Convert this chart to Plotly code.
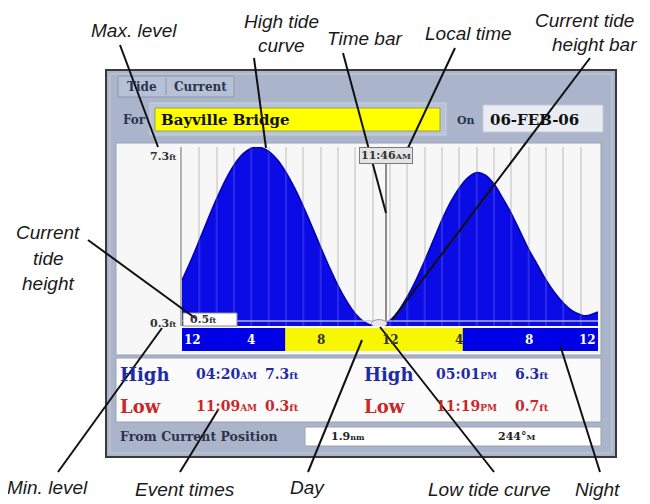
import plotly.graph_objects as go

W, H = 650, 504

# ---------------- data ----------------
tide_hours = [0, 0.5, 1, 1.5, 2, 2.5, 3, 3.5, 4, 4.33, 4.5, 5, 5.5, 6, 6.5, 7, 7.5, 8,
              8.5, 9, 9.5, 10, 10.5, 11, 11.15, 11.5, 12, 12.5, 13, 13.5, 14, 14.5,
              15, 15.5, 16, 16.5, 17.02, 17.5, 18, 18.5, 19, 19.5, 20, 20.5, 21,
              21.5, 22, 22.5, 23, 23.32, 24]
tide_ft = [2.09, 2.84, 3.65, 4.48, 5.28, 6.00, 6.59, 7.02, 7.25, 7.30, 7.29, 7.13, 6.80,
           6.31, 5.69, 4.97, 4.19, 3.38, 2.60, 1.88, 1.27, 0.78, 0.46, 0.31, 0.30, 0.33,
           0.52, 0.90, 1.45, 2.10, 2.85, 3.65, 4.45, 5.15, 5.70, 6.10, 6.30, 6.20, 5.85,
           5.30, 4.70, 4.00, 3.30, 2.70, 2.10, 1.60, 1.20, 0.90, 0.74, 0.70, 0.85]

hour_ticks = [0, 4, 8, 12, 16, 20, 24]
hour_tick_labels = ["12", "4", "8", "12", "4", "8", "12"]
sunrise_h = 5.95
sunset_h = 16.2
now_h = 11.77
now_text = "11:46"
now_suffix = "AM"
current_ft = 0.5
max_ft = 7.3
min_ft = 0.3
station = "Bayville Bridge"
date_text = "06-FEB-06"
event_kind = ["High", "Low", "High", "Low"]
event_time = ["04:20", "11:09", "05:01", "11:19"]
event_ampm = ["AM", "AM", "PM", "PM"]
event_ft = ["7.3", "0.3", "6.3", "0.7"]
distance_nm = "1.9"
bearing_deg = "244"

# ---------------- helpers ----------------
# the page body has an 8px margin, so the figure starts 8px right and down
OFF = 8

def px(x):
    return (x - OFF) / W

def py(y):
    return 1 - (y - OFF) / H

SERIF = "DejaVu Serif"
CALL = "Liberation Sans Narrow, Liberation Sans, Arial"

shapes = []
ann = []

def rect(x0, y0, x1, y1, fill, line="rgba(0,0,0,0)", lw=1, layer="below"):
    shapes.append(dict(type="rect", xref="paper", yref="paper",
                       x0=px(x0), x1=px(x1), y0=py(y1), y1=py(y0),
                       fillcolor=fill, line=dict(color=line, width=lw), layer=layer))

def pline(x0, y0, x1, y1, color="#111", lw=2, layer="above"):
    shapes.append(dict(type="line", xref="paper", yref="paper",
                       x0=px(x0), x1=px(x1), y0=py(y0), y1=py(y1),
                       line=dict(color=color, width=lw), layer=layer))

def text(x, y, t, size=12, color="#222", family=SERIF, xanchor="left", bold=True,
         italic=False, **kw):
    ann.append(dict(xref="paper", yref="paper", x=px(x), y=py(y), text=t,
                    showarrow=False, xanchor=xanchor, yanchor="middle",
                    font=dict(size=size, color=color, family=family,
                              weight="bold" if bold else "normal",
                              style="italic" if italic else "normal"), **kw))

# ---------------- device frame ----------------
rect(106, 70, 616, 457, "#aab5cb", "#3a3a3a", 2)
rect(110, 74, 612, 453, "rgba(0,0,0,0)", "#c4cddc", 1)
# tabs
rect(118, 76, 234, 97, "#b7c1d5", "#8c96ac", 1)
pline(166, 78, 166, 95, "#8c96ac", 1)
text(142, 87, "Tide", 12, "#2b3350", xanchor="center")
text(200, 87, "Current", 12, "#2b3350", xanchor="center")
# station row
rect(150, 103, 446, 135, "#b9c3d6", "#c9d1df", 1)
text(121, 120, "For", 12, "#2b3350")
rect(155, 108, 440, 131, "#ffff00", "#9c9c5a", 1)
text(159, 120, station, 15, "#111")
text(455, 120, "On", 11, "#2b3350")
rect(483, 105, 603, 132, "#e9edf3", "#c3c9d5", 1)
text(488, 120, date_text, 15, "#111")

# chart panel
rect(116, 143, 601, 355, "#f7f7f8", "#9aa1b2", 1)
pline(181, 147, 181, 326, "#9b9b9b", 1.5, "below")

# events panel
rect(116, 358, 601, 422, "#fbfbfb", "#9aa1b2", 1)
ev_x = [(118, 194, 263), (118, 194, 263), (362, 434, 513), (362, 434, 513)]
ev_y = [374, 406, 374, 406]
for k in range(4):
    col = "#1f2aa6" if event_kind[k] == "High" else "#c9282b"
    x0, x1, x2 = ev_x[k]
    text(x0, ev_y[k], event_kind[k], 18, col)
    text(x1, ev_y[k], event_time[k] + "<span style='font-size:9px'>" + event_ampm[k] + "</span>", 14, col)
    text(x2, ev_y[k], event_ft[k] + "<span style='font-size:10px'>ft</span>", 14, col)

# bottom row
text(118, 436, "From Current Position", 12.5, "#2f3348")
rect(305, 427, 601, 446, "#ffffff", "#9aa1b2", 1)
text(348, 436.5, distance_nm + "<span style='font-size:8px'>nm</span>", 11, "#222", xanchor="center")
text(516, 436.5, bearing_deg + "°<span style='font-size:8px'>M</span>", 11, "#222", xanchor="center")

# ---------------- tide chart ----------------
fig = go.Figure()
fig.add_trace(go.Scatter(x=tide_hours, y=tide_ft, mode="lines", fill="tozeroy",
                         line=dict(color="#0000b0", width=1.5, shape="spline"),
                         fillcolor="#0b0be6", hoverinfo="skip", showlegend=False))

# hourly stripes over the blue fill
for h in range(1, 24):
    shapes.append(dict(type="line", xref="x", yref="paper", x0=h, x1=h,
                       y0=py(326), y1=py(147),
                       line=dict(color="rgba(255,255,255,0.13)", width=2), layer="above"))

# current tide height bar
shapes.append(dict(type="line", xref="x", yref="y", x0=0, x1=24, y0=current_ft, y1=current_ft,
                   line=dict(color="rgba(190,190,225,0.9)", width=1.5), layer="above"))
# time bar
shapes.append(dict(type="line", xref="x", yref="y", x0=now_h, x1=now_h, y0=current_ft, y1=max_ft,
                   line=dict(color="#8e8e8e", width=2), layer="above"))
shapes.append(dict(type="circle", xref="x", yref="y", x0=now_h - 0.85, x1=now_h + 0.05,
                   y0=min_ft - 0.05, y1=current_ft + 0.05,
                   fillcolor="#e8e8e8", line=dict(color="#9a9a9a", width=1), layer="above"))

# day / night hour bar
shapes.append(dict(type="rect", xref="x", yref="paper", x0=0, x1=24, y0=py(351), y1=py(328),
                   fillcolor="#0000e6", line=dict(width=0), layer="below"))
shapes.append(dict(type="rect", xref="x", yref="paper", x0=sunrise_h, x1=sunset_h,
                   y0=py(351), y1=py(328), fillcolor="#f7f700", line=dict(width=0), layer="below"))
for h, lab in zip(hour_ticks, hour_tick_labels):
    day = sunrise_h <= h <= sunset_h
    xa = "left" if h == hour_ticks[0] else ("right" if h == hour_ticks[-1] else "center")
    ann.append(dict(xref="x", yref="paper", x=h, y=py(339.5), text=lab, showarrow=False,
                    xanchor=xa, yanchor="middle",
                    font=dict(size=12, family=SERIF, weight="bold",
                              color="#333333" if day else "#ffffff")))

# level labels
ann.append(dict(xref="paper", yref="y", x=px(179), y=max_ft - 0.38, text=f"{max_ft}<span style='font-size:8px'>ft</span>",
                showarrow=False, xanchor="right", yanchor="middle",
                font=dict(size=11, family=SERIF, weight="bold", color="#333")))
ann.append(dict(xref="paper", yref="paper", x=px(179), y=py(323), text=f"{min_ft}<span style='font-size:8px'>ft</span>",
                showarrow=False, xanchor="right", yanchor="middle",
                font=dict(size=11, family=SERIF, weight="bold", color="#333")))
rect(183, 313, 237, 326, "#ffffff", "#8a8a8a", 1, "above")
text(188, 319.5, f"{current_ft}<span style='font-size:8px'>ft</span>", 11, "#333")

# local time label
ann.append(dict(xref="x", yref="paper", x=now_h, y=py(155.5),
                text=now_text + "<span style='font-size:8px'>" + now_suffix + "</span>",
                showarrow=False, xanchor="center", yanchor="middle",
                bgcolor="#e4e4e4", bordercolor="#7a7a7a", borderwidth=1, borderpad=1,
                font=dict(size=11, family=SERIF, weight="bold", color="#333")))

# ---------------- callouts ----------------
call = [
    (134, 31, "Max. level"), (281, 21, "High tide"), (281, 46, "curve"),
    (364, 38, "Time bar"), (468, 33, "Local time"),
    (584, 20, "Current tide"), (594, 45, "height bar"),
    (48, 233, "Current"), (48, 258, "tide"), (48, 283, "height"),
    (47, 487, "Min. level"), (185, 489, "Event times"), (307, 487, "Day"),
    (489, 489, "Low tide curve"), (597, 489, "Night"),
]
for cx, cy, t in call:
    text(cx, cy, t, 19, "#1a1a1a", family=CALL, xanchor="center", bold=False, italic=True)

lines = [
    (120, 45, 158, 147), (254, 58, 266, 148), (343, 53, 386, 213), (455, 48, 407, 150),
    (590, 58, 392, 320), (88, 240, 195, 318), (58, 472, 162, 328), (180, 472, 218, 410),
    (308, 472, 362, 340), (494, 472, 380, 327), (600, 472, 560, 345),
]
for x0, y0, x1, y1 in lines:
    pline(x0, y0, x1, y1, "#111111", 2)

fig.update_layout(
    width=W, height=H, margin=dict(l=0, r=0, t=0, b=0),
    paper_bgcolor="#ffffff", plot_bgcolor="#ffffff",
    xaxis=dict(domain=[px(182), px(598)], range=[0, 24], showgrid=True, dtick=1, tick0=0,
               gridcolor="#d6d6d6", gridwidth=2, showticklabels=False, zeroline=False,
               showline=False, ticks="", fixedrange=True),
    yaxis=dict(domain=[py(326), py(147)], range=[min_ft, max_ft], showgrid=False,
               showticklabels=False, zeroline=False, showline=False, ticks="", fixedrange=True),
    shapes=shapes, annotations=ann, showlegend=False,
)
fig.write_html("out.html")
